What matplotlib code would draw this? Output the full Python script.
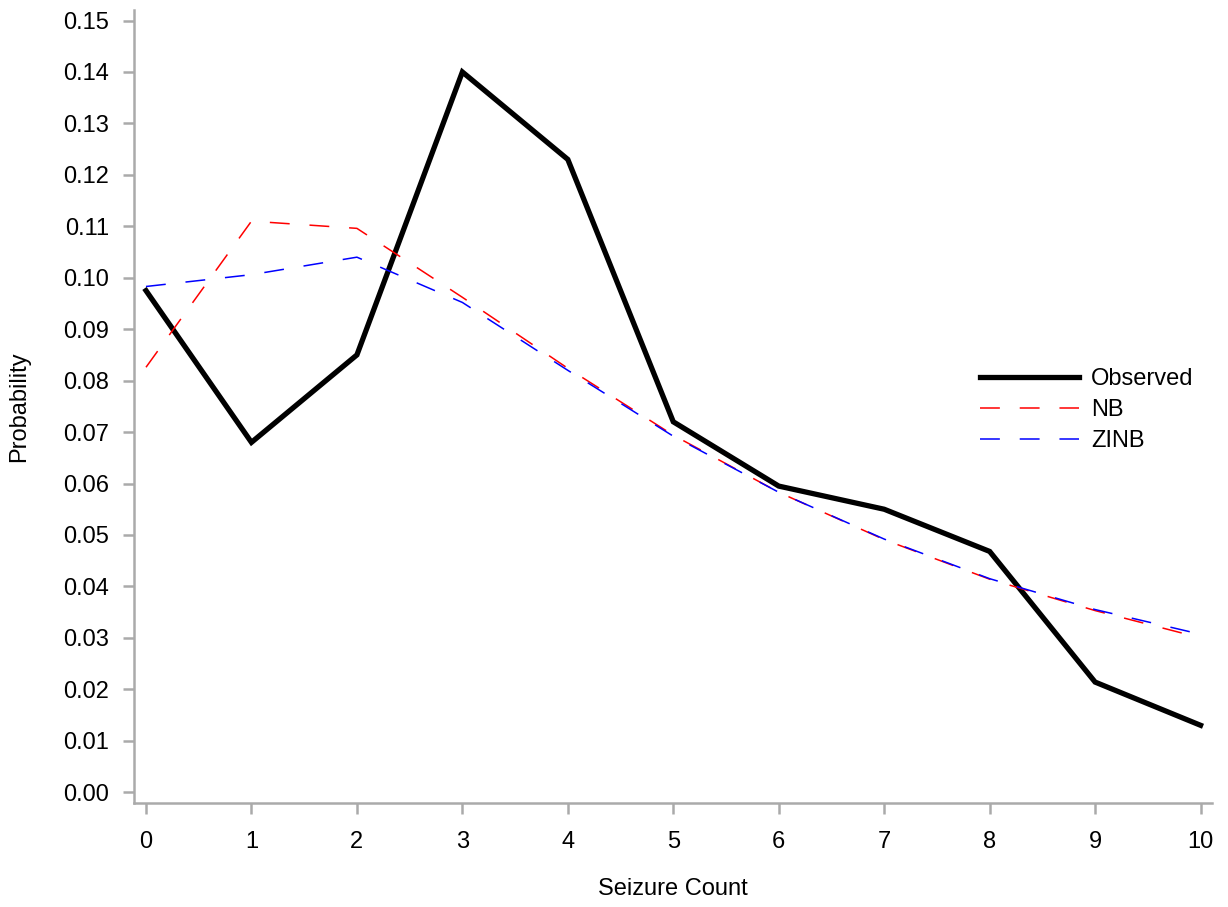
import matplotlib.pyplot as plt

plt.rcParams['font.family'] = ['Liberation Sans', 'DejaVu Sans']

# seizure counts and probabilities
counts = [0, 1, 2, 3, 4, 5, 6, 7, 8, 9, 10]
observed = [0.0975, 0.068, 0.085, 0.140, 0.123, 0.072, 0.0595, 0.055, 0.0468, 0.0214, 0.013]
nb = [0.0826, 0.111, 0.1096, 0.0962, 0.0824, 0.0694, 0.0583, 0.0491, 0.0414, 0.0353, 0.0300]
zinb = [0.0983, 0.1006, 0.104, 0.0952, 0.0820, 0.0692, 0.0583, 0.0492, 0.0415, 0.0355, 0.0307]
yticks = [0.00, 0.01, 0.02, 0.03, 0.04, 0.05, 0.06, 0.07, 0.08, 0.09, 0.10,
          0.11, 0.12, 0.13, 0.14, 0.15]

fig = plt.figure(figsize=(12.28, 9.07), dpi=100)
ax = fig.add_axes([0.1091, 0.1147, 0.878, 0.874])

ax.plot(counts, observed, color='black', lw=3.8, label='Observed',
        solid_joinstyle='miter')
ax.plot(counts, nb, color='red', lw=1.1, dashes=(13, 13), label='NB')
ax.plot(counts, zinb, color='blue', lw=1.1, dashes=(13, 13), label='ZINB')

ax.set_xlim(-0.114, 10.11)
ax.set_ylim(-0.0021, 0.152)
ax.set_xticks(counts)
ax.set_yticks(yticks)
ax.set_yticklabels(['%.2f' % v for v in yticks])

gray = '#aaaaaa'
for side in ['top', 'right']:
    ax.spines[side].set_visible(False)
for side in ['left', 'bottom']:
    ax.spines[side].set_color(gray)
    ax.spines[side].set_linewidth(1.8)
ax.tick_params(axis='both', colors=gray, width=1.8, length=8, labelsize=17,
               labelcolor='black')
ax.tick_params(axis='x', pad=12)
ax.tick_params(axis='y', pad=10)

ax.set_xlabel('Seizure Count', fontsize=17, labelpad=18)
ax.set_ylabel('Probability', fontsize=17, labelpad=24)

ax.legend(loc='upper left', bbox_to_anchor=(0.765, 0.575), frameon=False,
          fontsize=17, handlelength=4.2, handletextpad=0.5, labelspacing=0.38)

fig.savefig('out.png', dpi=100)
